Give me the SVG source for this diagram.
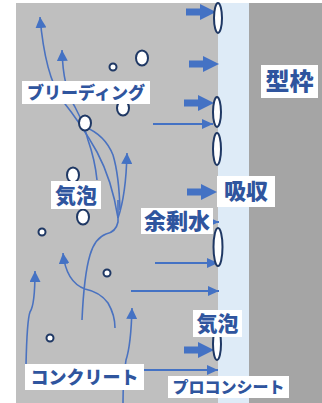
<svg xmlns="http://www.w3.org/2000/svg" width="322" height="403" viewBox="0 0 322 403">
  <defs>
    <style>
      .flow { fill: none; stroke: #4a72c0; stroke-width: 1.6; }
      .push { fill: none; stroke: #4472c4; stroke-width: 2.2; }
      .blk { fill: #4472c4; }
      .bub { fill: #ffffff; stroke: #1f3864; stroke-width: 2; }
      .lblbox { fill: #ffffff; }
      .lbl { font-family: "Noto Sans CJK JP", "Noto Sans", sans-serif; font-weight: 900; fill: #2f559e; }
    </style>
    <marker id="tipUp" viewBox="0 0 11 11" refX="11" refY="5.5" markerWidth="11" markerHeight="11" markerUnits="userSpaceOnUse" orient="auto-start-reverse">
      <path d="M0,0 L11,5.5 L0,11 Z" fill="#4472c4"/>
    </marker>
    <marker id="tipRight" viewBox="0 0 11 10" refX="11" refY="5" markerWidth="11" markerHeight="10" markerUnits="userSpaceOnUse" orient="auto">
      <path d="M0,0 L11,5 L0,10 Z" fill="#4472c4"/>
    </marker>
    <path id="bigArrow" d="M0,-3.5 H14 V-8 L30,0 L14,8 V3.5 H0 Z"/>
  </defs>

  <!-- layers: concrete, sheet, formwork -->
  <g id="layers">
    <rect x="16" y="3" width="202" height="400" fill="#bfbfbf"/>
    <rect x="218" y="3" width="31" height="400" fill="#deebf7"/>
    <rect x="249" y="3" width="73" height="400" fill="#a5a5a5"/>
  </g>

  <!-- connectors: bleeding paths and water movement -->
  <g id="connectors">
    <path class="flow" marker-start="url(#tipUp)" d="M40,17 Q45,75 62,100 Q82,125 97,152 Q112,180 118,218"/>
    <path class="flow" marker-start="url(#tipUp)" d="M62,50 Q63,88 75,107 Q84,124 88,140 Q95,160 97,180"/>
    <path class="flow" d="M85,127 Q105,135 113,155 Q119,175 120,210"/>
    <path class="flow" marker-start="url(#tipUp)" d="M127,153 Q126,195 118,218"/>
    <path class="flow" d="M118,200 L118,222 Q116,232 106,234 Q95,238 90,255 Q84,275 82,320"/>
    <path class="flow" marker-start="url(#tipUp)" d="M63,253 Q66,282 85,289 Q100,292 108,303 Q115,315 115,328"/>
    <path class="flow" marker-start="url(#tipUp)" d="M35,271 Q35,305 30,312 Q27,320 26,365"/>
    <path class="flow" marker-start="url(#tipUp)" d="M132,308 Q131,345 126,360 Q123,380 123,403"/>

    <line class="push" x1="153" y1="124" x2="213" y2="124" marker-end="url(#tipRight)"/>
    <line class="push" x1="150" y1="222" x2="219" y2="222" marker-end="url(#tipRight)"/>
    <line class="push" x1="155" y1="263" x2="218" y2="263" marker-end="url(#tipRight)"/>
    <line class="push" x1="131" y1="291" x2="219" y2="291" marker-end="url(#tipRight)"/>
    <line class="push" x1="143" y1="370" x2="218" y2="370" marker-end="url(#tipRight)"/>

    <use href="#bigArrow" class="blk" transform="translate(186,12)"/>
    <use href="#bigArrow" class="blk" transform="translate(189,64)"/>
    <use href="#bigArrow" class="blk" transform="translate(184,103)"/>
    <use href="#bigArrow" class="blk" transform="translate(187,192)"/>
    <use href="#bigArrow" class="blk" transform="translate(184,350)"/>
  </g>

  <!-- air bubbles -->
  <g id="bubbles">
    <ellipse class="bub" cx="218" cy="18" rx="4" ry="15"/>
    <ellipse class="bub" cx="217" cy="112" rx="4" ry="15"/>
    <ellipse class="bub" cx="217" cy="149" rx="4" ry="16"/>
    <ellipse class="bub" cx="218" cy="247" rx="4.5" ry="19"/>
    <ellipse class="bub" cx="217" cy="344" rx="4" ry="16"/>

    <ellipse class="bub" cx="142" cy="58" rx="6" ry="7.5"/>
    <ellipse class="bub" cx="123" cy="108" rx="6" ry="7.5"/>
    <ellipse class="bub" cx="85" cy="123" rx="6" ry="7.5"/>
    <ellipse class="bub" cx="73" cy="175" rx="6" ry="7.5"/>
    <ellipse class="bub" cx="83" cy="217" rx="6" ry="7.5"/>

    <circle class="bub" cx="113" cy="67" r="3.5"/>
    <circle class="bub" cx="42" cy="232" r="3.5"/>
    <circle class="bub" cx="107" cy="273" r="3.5"/>
    <circle class="bub" cx="50" cy="338" r="3.5"/>
  </g>

  <!-- labels -->
  <g id="label-bleeding">
    <rect class="lblbox" x="22" y="81" width="128" height="23"/>
    <text class="lbl" x="86" y="99" font-size="17" text-anchor="middle">ブリーディング</text>
  </g>
  <g id="label-formwork">
    <rect class="lblbox" x="261" y="65" width="57" height="33"/>
    <text class="lbl" x="289.5" y="90" font-size="24" text-anchor="middle">型枠</text>
  </g>
  <g id="label-bubble-upper">
    <rect class="lblbox" x="51" y="181" width="50" height="28"/>
    <text class="lbl" x="76" y="203" font-size="21" text-anchor="middle">気泡</text>
  </g>
  <g id="label-absorb">
    <rect class="lblbox" x="217" y="176" width="58" height="31"/>
    <text class="lbl" x="246" y="199" font-size="22" text-anchor="middle">吸収</text>
  </g>
  <g id="label-excess-water">
    <rect class="lblbox" x="141" y="208" width="72" height="26"/>
    <text class="lbl" x="177" y="229" font-size="22" text-anchor="middle">余剰水</text>
  </g>
  <g id="label-bubble-lower">
    <rect class="lblbox" x="193" y="310" width="49" height="27"/>
    <text class="lbl" x="217.5" y="331" font-size="21" text-anchor="middle">気泡</text>
  </g>
  <g id="label-concrete">
    <rect class="lblbox" x="25" y="364" width="119" height="26"/>
    <text class="lbl" x="84.5" y="384" font-size="18" text-anchor="middle">コンクリート</text>
  </g>
  <g id="label-sheet">
    <rect class="lblbox" x="168" y="376" width="121" height="22"/>
    <text class="lbl" x="228.5" y="393" font-size="16" text-anchor="middle">プロコンシート</text>
  </g>
</svg>
